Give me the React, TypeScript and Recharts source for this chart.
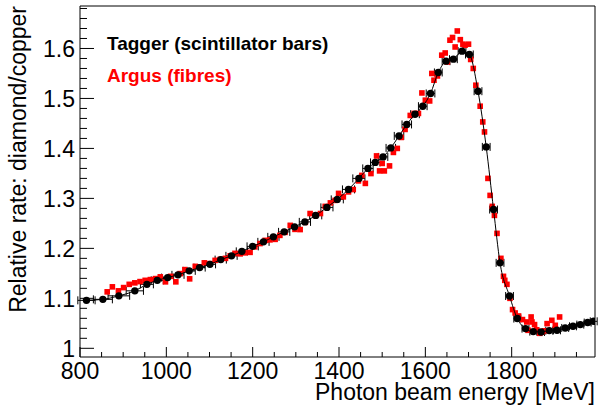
import React from 'react';
import { ScatterChart, Scatter, XAxis, YAxis, ErrorBar, ReferenceLine } from 'recharts';

// Tagger (scintillator bars): energy [MeV], ratio, horizontal error [MeV]
const tagE = [815, 853, 890, 927, 955, 979, 1003, 1027, 1053, 1077, 1101, 1126, 1151, 1175, 1200, 1225, 1248, 1273, 1297, 1321, 1346, 1372, 1396, 1422, 1446, 1467, 1484, 1502, 1520, 1539, 1557, 1576, 1594, 1612, 1630, 1648, 1665, 1685, 1702, 1722, 1741, 1758, 1773, 1795, 1813, 1832, 1850, 1868, 1887, 1905, 1924, 1942, 1959, 1976, 1990];
const tagV = [1.096, 1.098, 1.105, 1.115, 1.128, 1.136, 1.1415, 1.147, 1.155, 1.1615, 1.168, 1.1775, 1.185, 1.194, 1.204, 1.213, 1.223, 1.233, 1.243, 1.253, 1.266, 1.282, 1.298, 1.318, 1.34, 1.36, 1.372, 1.383, 1.401, 1.425, 1.448, 1.4685, 1.4845, 1.51, 1.552, 1.5746, 1.5786, 1.5946, 1.588, 1.5145, 1.403, 1.2777, 1.171, 1.1047, 1.0595, 1.0394, 1.0334, 1.0327, 1.0354, 1.036, 1.0407, 1.044, 1.0474, 1.0515, 1.054];
const tagErr = [20, 22, 25, 20, 15, 14, 14, 14, 14, 13, 13, 13, 13, 13, 13, 13, 13, 13, 13, 13, 14, 14, 14, 14, 14, 12, 11, 11, 11, 11, 11, 10, 10, 10, 9, 9, 9, 9, 9, 9, 9, 9, 9, 9, 8, 8, 8, 8, 8, 8, 8, 8, 8, 8, 8];

// Argus (fibres)
const argE = [863, 875, 889, 901, 914, 927, 939, 951, 963, 975, 986, 998, 1010, 1022, 1032, 1043, 1054, 1067, 1078, 1088, 1101, 1113, 1125, 1137, 1148, 1159, 1171, 1182, 1194, 1205, 1217, 1229, 1240, 1252, 1263, 1275, 1287, 1298, 1310, 1322, 1333, 1345, 1357, 1368, 1380, 1391, 1399, 1410, 1422, 1433, 1445, 1453, 1461, 1474, 1487, 1494, 1500, 1505, 1517, 1526, 1535, 1544, 1553, 1565, 1574, 1584, 1592, 1600, 1610, 1615, 1620, 1628, 1638, 1646, 1651, 1657, 1663, 1669, 1674, 1681, 1687, 1692, 1700, 1705, 1711, 1717, 1727, 1733, 1737, 1745, 1750, 1755, 1760, 1766, 1775, 1781, 1784, 1789, 1796, 1802, 1808, 1816, 1825, 1835, 1838, 1845, 1847, 1853, 1858, 1865, 1870, 1876, 1882, 1893, 1901, 1911];
const argV = [1.113, 1.123, 1.115, 1.1215, 1.128, 1.131, 1.1335, 1.136, 1.1375, 1.1395, 1.143, 1.133, 1.144, 1.133, 1.1495, 1.1575, 1.139, 1.164, 1.163, 1.171, 1.1696, 1.176, 1.178, 1.18, 1.185, 1.19, 1.189, 1.191, 1.192, 1.203, 1.2096, 1.216, 1.217, 1.218, 1.226, 1.232, 1.246, 1.238, 1.2376, 1.252, 1.2697, 1.266, 1.2697, 1.284, 1.291, 1.296, 1.31, 1.303, 1.313, 1.3177, 1.335, 1.346, 1.33, 1.3497, 1.385, 1.355, 1.37, 1.355, 1.365, 1.392, 1.4, 1.422, 1.438, 1.466, 1.47, 1.47, 1.511, 1.4965, 1.495, 1.55, 1.5365, 1.545, 1.5866, 1.591, 1.573, 1.6166, 1.622, 1.603, 1.635, 1.6176, 1.6086, 1.6066, 1.6086, 1.578, 1.56, 1.5265, 1.4845, 1.453, 1.433, 1.34, 1.306, 1.284, 1.266, 1.23, 1.18, 1.144, 1.136, 1.128, 1.1, 1.0775, 1.0707, 1.0647, 1.0575, 1.0527, 1.036, 1.0627, 1.0527, 1.0474, 1.037, 1.03, 1.0326, 1.035, 1.0494, 1.056, 1.046, 1.0627];

// Axis ticks
const xTicks = [800, 850, 900, 950, 1000, 1050, 1100, 1150, 1200, 1250, 1300, 1350, 1400, 1450, 1500, 1550, 1600, 1650, 1700, 1750, 1800, 1850, 1900, 1950];
const xMajor = [800, 1000, 1200, 1400, 1600, 1800];
const xMajorLabels = ['800', '1000', '1200', '1400', '1600', '1800'];
const yTicks = [1.0, 1.02, 1.04, 1.06, 1.08, 1.1, 1.12, 1.14, 1.16, 1.18, 1.2, 1.22, 1.24, 1.26, 1.28, 1.3, 1.32, 1.34, 1.36, 1.38, 1.4, 1.42, 1.44, 1.46, 1.48, 1.5, 1.52, 1.54, 1.56, 1.58, 1.6, 1.62, 1.64, 1.66, 1.68];
const yMajor = [1.0, 1.1, 1.2, 1.3, 1.4, 1.5, 1.6];
const yMajorLabels = ['1', '1.1', '1.2', '1.3', '1.4', '1.5', '1.6'];

const X_MIN = 800;
const X_MAX = 1993;
const Y_MIN = 0.9826;
const Y_MAX = 1.685;

const FONT = '"Liberation Sans", Arial, Helvetica, sans-serif';

const tagData = tagE.map((e, i) => ({ e, v: tagV[i], ex: tagErr[i] }));
const argData = argE.map((e, i) => ({ e, v: argV[i] }));

const findIdx = (arr: number[], val: number) => arr.findIndex((m) => Math.abs(m - val) < 1e-6);

const XTick = (props: any) => {
  const { x, y, payload } = props;
  const idx = findIdx(xMajor, payload.value);
  const major = idx >= 0;
  return (
    <g>
      <line x1={x} y1={y} x2={x} y2={y - (major ? 10 : 5)} stroke="#000" strokeWidth={1} />
      {major && (
        <text x={x} y={y + 22} textAnchor="middle" fontSize={23} fontFamily={FONT} fill="#000">
          {xMajorLabels[idx]}
        </text>
      )}
    </g>
  );
};

const YTick = (props: any) => {
  const { x, y, payload } = props;
  const idx = findIdx(yMajor, payload.value);
  const major = idx >= 0;
  return (
    <g>
      <line x1={x} y1={y} x2={x + (major ? 14 : 7)} y2={y} stroke="#000" strokeWidth={1} />
      {major && (
        <text x={x - 5} y={y + 9} textAnchor="end" fontSize={23} fontFamily={FONT} fill="#000">
          {yMajorLabels[idx]}
        </text>
      )}
    </g>
  );
};

const XTitle = (props: any) => {
  const vb = props.viewBox || { x: 80, y: 357, width: 515, height: 57 };
  return (
    <text x={vb.x + vb.width} y={vb.y + 43} textAnchor="end" fontSize={23} fontFamily={FONT} fill="#000">
      Photon beam energy [MeV]
    </text>
  );
};

const YTitleAndLegend = () => (
  <g>
    <text transform="translate(26,6) rotate(-90)" textAnchor="end" fontSize={23} fontFamily={FONT} fill="#000">
      Relative rate: diamond/copper
    </text>
    <text x={107} y={49.5} fontSize={19} fontWeight="bold" fontFamily={FONT} fill="#000">
      Tagger (scintillator bars)
    </text>
    <text x={107} y={82} fontSize={19} fontWeight="bold" fontFamily={FONT} fill="#ff0000">
      Argus (fibres)
    </text>
  </g>
);

const Square = (props: any) => {
  const { cx, cy } = props;
  if (cx == null || cy == null) return null;
  return <rect x={cx - 2.8} y={cy - 2.8} width={5.6} height={5.6} fill="#ff0000" />;
};

const Dot = (props: any) => {
  const { cx, cy } = props;
  if (cx == null || cy == null) return null;
  return <circle cx={cx} cy={cy} r={3.7} fill="#000" />;
};

export default function App() {
  return (
    <div style={{ position: 'absolute', left: 0, top: 0, width: 598, height: 414, background: '#fff' }}>
      <ScatterChart width={598} height={414} margin={{ top: 6, right: 3, bottom: 0, left: 0 }}>
        <XAxis
          dataKey="e"
          type="number"
          domain={[X_MIN, X_MAX]}
          ticks={xTicks}
          interval={0}
          allowDataOverflow
          tickSize={0}
          tickMargin={0}
          tickLine={false}
          axisLine={{ stroke: '#000', strokeWidth: 1 }}
          tick={<XTick />}
          height={57}
          label={<XTitle />}
        />
        <YAxis
          dataKey="v"
          type="number"
          domain={[Y_MIN, Y_MAX]}
          ticks={yTicks}
          interval={0}
          allowDataOverflow
          tickSize={0}
          tickMargin={0}
          tickLine={false}
          axisLine={{ stroke: '#000', strokeWidth: 1 }}
          tick={<YTick />}
          width={80}
          label={<YTitleAndLegend />}
        />
        <ReferenceLine y={Y_MAX} stroke="#000" strokeWidth={1} ifOverflow="visible" />
        <ReferenceLine x={X_MAX} stroke="#000" strokeWidth={1} ifOverflow="visible" />
        <Scatter data={argData} shape={<Square />} isAnimationActive={false} />
        <Scatter
          data={tagData}
          shape={<Dot />}
          line={{ stroke: '#000', strokeWidth: 1 }}
          lineJointType="monotoneX"
          isAnimationActive={false}
        >
          <ErrorBar dataKey="ex" direction="x" width={4} stroke="#000" strokeWidth={1} isAnimationActive={false} />
        </Scatter>
      </ScatterChart>
    </div>
  );
}
